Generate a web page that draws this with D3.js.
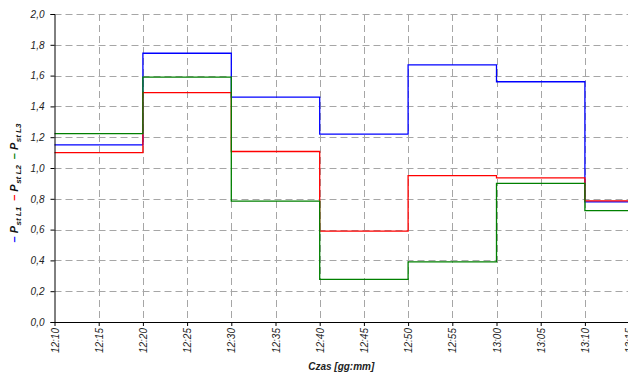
<!DOCTYPE html>
<html>
<head>
  <meta charset="utf-8">
  <title>Pst L1 L2 L3</title>
  <script src="https://d3js.org/d3.v7.min.js"></script>
  <style>
    body { margin: 0; background: #fff; }
    svg { display: block; font-family: "Liberation Sans", Arial, sans-serif; }
    .grid line { stroke: #a6a6a6; stroke-width: 1; stroke-dasharray: 7,4; }
    .tick-label { font-size: 10px; font-style: italic; fill: #222; }
    .series { fill: none; stroke-width: 1.3; }
  </style>
</head>
<body>
  <svg width="628" height="374"></svg>
  <script>
    // measurement times (step starts) and the three phase series
    const times = ["12:10", "12:20", "12:30", "12:40", "12:50", "13:00", "13:10"];
    const pstL1 = [1.15, 1.745, 1.46, 1.22, 1.67, 1.56, 0.78];
    const pstL2 = [1.10, 1.49, 1.107, 0.59, 0.95, 0.936, 0.787];
    const pstL3 = [1.223, 1.59, 0.785, 0.277, 0.39, 0.90, 0.723];
    const seriesNames = ["st L1", "st L2", "st L3"];
    const seriesColors = ["#0000ff", "#ff0000", "#008000"];
    const yTicks = [0, 0.2, 0.4, 0.6, 0.8, 1.0, 1.2, 1.4, 1.6, 1.8, 2.0];
    const xTickLabels = ["12:10", "12:15", "12:20", "12:25", "12:30", "12:35", "12:40",
                         "12:45", "12:50", "12:55", "13:00", "13:05", "13:10", "13:15"];

    const parse = d3.timeParse("%H:%M");
    const svg = d3.select("svg");
    const W = 628;
    const mLeft = 54.5, mBottom = 322, mTop = 14;

    const x = d3.scaleTime()
      .domain([parse("12:10"), parse("13:15")])
      .range([mLeft, mLeft + 13 * 44.2]);
    const y = d3.scaleLinear().domain([0, 2]).range([mBottom, mTop]);

    // gridlines
    const grid = svg.append("g").attr("class", "grid");
    grid.selectAll("line.h")
      .data(yTicks.slice(1))
      .enter().append("line")
      .attr("x1", mLeft).attr("x2", W)
      .attr("y1", d => Math.round(y(d)) + 0.5)
      .attr("y2", d => Math.round(y(d)) + 0.5);
    grid.selectAll("line.v")
      .data(xTickLabels.slice(1))
      .enter().append("line")
      .attr("x1", d => Math.round(x(parse(d))) + 0.5)
      .attr("x2", d => Math.round(x(parse(d))) + 0.5)
      .attr("y1", mTop).attr("y2", mBottom);

    // series as step lines
    const seriesData = [pstL1, pstL2, pstL3];
    const line = d3.line()
      .x(d => d[0])
      .y(d => d[1])
      .curve(d3.curveStepAfter);
    seriesData.forEach((vals, i) => {
      const pts = times.map((t, j) => [x(parse(t)), y(vals[j])]);
      pts.push([W, y(vals[vals.length - 1])]);
      svg.append("path")
        .attr("class", "series")
        .attr("stroke", seriesColors[i])
        .attr("d", line(pts));
    });

    // axes
    const yAxis = d3.axisLeft(y)
      .tickValues(yTicks)
      .tickSize(4)
      .tickPadding(6)
      .tickFormat(d => d3.format(".1f")(d).replace(".", ","));
    const gy = svg.append("g")
      .attr("transform", `translate(${mLeft},0)`)
      .call(yAxis);
    gy.select(".domain").attr("stroke", "#000");
    gy.selectAll(".tick line").attr("stroke", "#000");
    gy.selectAll(".tick text")
      .attr("class", "tick-label")
      .attr("font-family", null).attr("font-size", null);

    const xAxis = d3.axisBottom(x)
      .tickValues(xTickLabels.map(parse))
      .tickSize(4)
      .tickFormat(d3.timeFormat("%H:%M"));
    const gx = svg.append("g")
      .attr("transform", `translate(0,${mBottom})`)
      .call(xAxis);
    gx.select(".domain").attr("stroke", "#000").attr("d", `M${mLeft},0.5H${W}`);
    gx.selectAll(".tick line").attr("stroke", "#000");
    gx.selectAll(".tick text")
      .attr("class", "tick-label")
      .attr("font-family", null).attr("font-size", null)
      .attr("text-anchor", "end")
      .attr("transform", "rotate(-90)")
      .attr("x", -6).attr("y", 0).attr("dy", "0.35em");

    // x title
    svg.append("text")
      .attr("x", (mLeft + W) / 2)
      .attr("y", 370)
      .attr("text-anchor", "middle")
      .attr("font-size", 10)
      .attr("font-weight", "bold")
      .attr("font-style", "italic")
      .attr("fill", "#222")
      .text("Czas [gg:mm]");

    // y title with colored dashes
    const yt = svg.append("text")
      .attr("transform", "translate(18,183) rotate(-90)")
      .attr("text-anchor", "middle")
      .attr("font-weight", "bold")
      .attr("font-style", "italic")
      .attr("font-size", 11)
      .attr("fill", "#111");
    seriesNames.forEach((name, i) => {
      yt.append("tspan")
        .attr("fill", seriesColors[i])
        .attr("font-style", "normal")
        .attr("dx", i ? 6 : 0)
        .attr("dy", i ? -3 : 0)
        .text("–");
      yt.append("tspan").attr("dx", 3).text("P");
      yt.append("tspan").attr("font-size", 8).attr("dx", 0.5).attr("dy", 3).text(name);
    });
  </script>
</body>
</html>
